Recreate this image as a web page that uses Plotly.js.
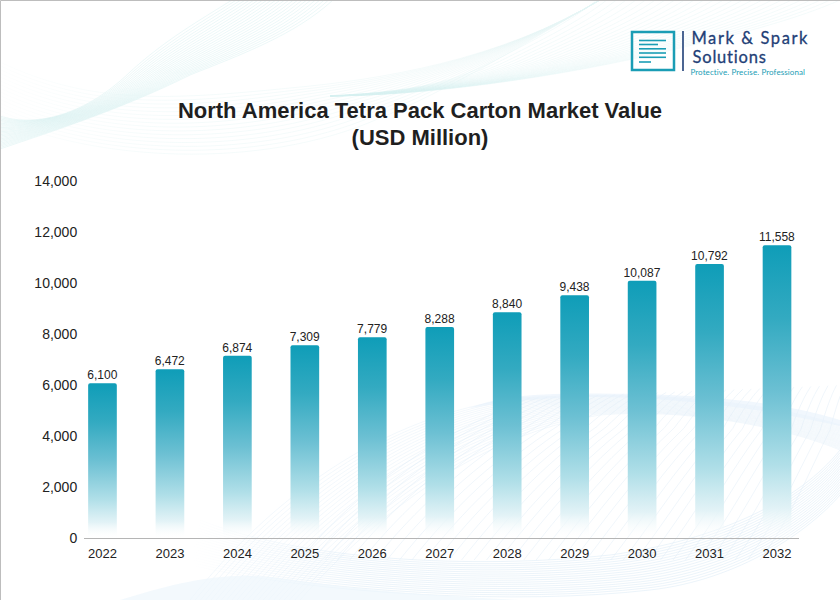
<!DOCTYPE html>
<html>
<head>
<meta charset="utf-8">
<script src="https://cdn.plot.ly/plotly-3.0.1.min.js"></script>
<style>html,body{margin:0;padding:0;background:#fff}#chart{width:840px;height:600px}</style>
</head>
<body>
<div id="chart"></div>
<script>
// Data
const years = ['2022','2023','2024','2025','2026','2027','2028','2029','2030','2031','2032'];
// Bar heights as drawn in the reference (they differ slightly from the printed labels there)
const barHeights = [6067,6616,7149,7557,7871,8275,8851,9518,10090,10745,11478];
// Printed value labels
const valueLabels = ['6,100','6,472','6,874','7,309','7,779','8,288','8,840','9,438','10,087','10,792','11,558'];
const yTicks = [0,2000,4000,6000,8000,10000,12000,14000];
const yTickText = ['0','2,000','4,000','6,000','8,000','10,000','12,000','14,000'];
const titleLines = ['North America Tetra Pack Carton Market Value','(USD Million)'];
const logoLines = ['Mark &amp; Spark','Solutions','Protective. Precise. Professional'];

// Decorative wave backdrop: a family of strands between two edge curves
function strands(a, b, n, color, width, opacity) {
  let out = '';
  for (let i = 0; i < n; i++) {
    const t = n === 1 ? 0 : i / (n - 1);
    const p = a.map((v, k) => (v + (b[k] - v) * t).toFixed(1));
    out += `<path d="M${p[0]},${p[1]} C${p.slice(2, 8).join(' ')} C${p.slice(8, 14).join(' ')}" fill="none" stroke="${color}" stroke-width="${width}" opacity="${opacity}"/>`;
  }
  return out;
}
function backdrop() {
  let s = '<svg xmlns="http://www.w3.org/2000/svg" width="840" height="600" viewBox="0 0 840 600">';
  s += '<defs><linearGradient id="fadeL" gradientUnits="userSpaceOnUse" x1="190" y1="0" x2="360" y2="0"><stop offset="0" stop-color="#dcebf6" stop-opacity="0"/><stop offset="1" stop-color="#dcebf6"/></linearGradient>';
  s += '<linearGradient id="fadeA" gradientUnits="userSpaceOnUse" x1="0" y1="0" x2="180" y2="0"><stop offset="0" stop-color="#e6f5f5" stop-opacity="0.2"/><stop offset="1" stop-color="#e6f5f5"/></linearGradient></defs>';
  // top-left teal ribbon
  s += strands([0,116, 30,126, 80,120, 130,72, 165,40, 200,20, 232,0],
               [0,149, 50,132, 120,110, 190,75, 240,55, 295,35, 333,0], 24, '#c9ecec', 0.6, 0.6);
  // sweeping arcs: left edge, dip, up into the top-right ribbon
  s += strands([0,62, 90,105, 170,100, 290,88, 380,80, 500,60, 600,0],
               [0,118, 90,160, 260,172, 380,118, 450,90, 530,40, 600,0], 16, 'url(#fadeA)', 0.6, 0.7);
  s += strands([330,96, 400,92, 450,85, 492,62, 530,42, 570,22, 597,0],
               [330,96, 420,96, 560,78, 680,48, 740,34, 800,18, 840,0], 26, '#d6efef', 0.6, 0.45);
  // bottom dome
  s += strands([190,600, 270,500, 380,415, 520,398, 640,390, 760,400, 840,425],
               [300,600, 380,510, 480,435, 600,415, 680,408, 780,425, 840,450], 22, '#dcebf6', 0.6, 0.6);
  // bottom smile arcs
  s += strands([200,520, 300,560, 470,570, 610,555, 720,540, 800,500, 840,450],
               [190,565, 320,595, 520,605, 650,590, 740,580, 810,530, 840,495], 18, 'url(#fadeL)', 0.7, 0.8);
  // fan of diagonal strands under the dome
  s += strands([300,560, 340,510, 400,460, 470,425, 490,415, 510,405, 530,398],
               [760,560, 790,520, 810,470, 830,430, 835,410, 840,395, 845,385], 38, '#e0edf7', 0.7, 0.7);
  // soft blue ribbons
  s += '<path d="M120,600 C170,585 220,570 280,578 C360,590 420,595 520,600 Z" fill="#eef6fc" opacity="0.7"/>';
  s += '<path d="M470,408 C510,392 560,393 640,394 C720,396 790,404 840,420 L840,426 C760,408 680,398 600,397 C550,397 510,401 470,408 Z" fill="#e8f2fb" opacity="0.6"/>';
  // picture frame (top and left edges)
  s += '<path d="M0.5,600 L0.5,0.5 L840,0.5" fill="none" stroke="#bdbdbd" stroke-width="1"/>';
  s += '</svg>';
  return 'data:image/svg+xml;base64,' + btoa(s);
}

const teal = '#1a9db5', navy = '#1f3f77';
// logo geometry uses page pixels, converted to paper fractions of the plot area
const L = 84, R = 41, T = 181, B = 62, W = 840, H = 600;
const px = x => (x - L) / (W - L - R), py = y => 1 - (y - T) / (H - T - B);
const seg = (x0, y0, x1, y1, color, width) => ({type:'line', xref:'paper', yref:'paper', x0:px(x0), x1:px(x1), y0:py(y0), y1:py(y1), line:{color, width}});
const logoShapes = [
  {type:'rect', xref:'paper', yref:'paper', x0:px(632), x1:px(674), y0:py(32), y1:py(70), line:{color:teal, width:2.5}},
  seg(639,40.5,666,40.5,teal,1.6), seg(639,44.5,658,44.5,teal,1.6), seg(639,48.8,666,48.8,teal,1.6),
  seg(639,53,666,53,teal,1.6), seg(639,57.3,666,57.3,teal,1.6), seg(639,62,651,62,teal,1.6),
  seg(683,31,683,71,navy,1.6)
];
const note = (text, x, y, size, color) => ({text, xref:'paper', yref:'paper', x:px(x), y:py(y), xanchor:'left', yanchor:'middle',
  showarrow:false, borderpad:0, font:{family:'Lato, "Open Sans", sans-serif', size, color}});

const trace = {
  type:'bar', x:years, y:barHeights, width:0.425,
  text:valueLabels, textposition:'outside', cliponaxis:false, constraintext:'none',
  textfont:{family:'"Liberation Sans", Arial, sans-serif', size:12, color:'#222'},
  marker:{color:'#0f9db8', line:{width:0}}, hoverinfo:'skip'
};
const layout = {
  width:W, height:H, margin:{l:L, r:R, t:T, b:B, pad:0},
  paper_bgcolor:'rgba(0,0,0,0)', plot_bgcolor:'rgba(0,0,0,0)', showlegend:false, barcornerradius:2,
  title:{text:titleLines.join('<br>'), x:0.5, xref:'container', xanchor:'center', y:1-118/600, yref:'container', yanchor:'top',
    font:{family:'"Liberation Sans", Arial, sans-serif', size:22, color:'#1f1f1f', weight:700}},
  xaxis:{type:'category', range:[-0.274,10.326], showline:true, linecolor:'#b5b5b5', linewidth:1, showgrid:false, zeroline:false,
    ticks:'outside', ticklen:3, tickcolor:'rgba(0,0,0,0)', tickfont:{family:'"Liberation Sans", Arial, sans-serif', size:13, color:'#222'}},
  yaxis:{range:[0,14000], tickmode:'array', tickvals:yTicks, ticktext:yTickText, showline:false, showgrid:false, zeroline:false,
    ticks:'outside', ticklen:3, tickcolor:'rgba(0,0,0,0)', tickfont:{family:'"Liberation Sans", Arial, sans-serif', size:14, color:'#222'}},
  shapes:logoShapes,
  annotations:[
    note(logoLines[0], 700, 37.5, 16.5, navy),
    note(logoLines[1], 694.6, 57.5, 16.5, navy),
    note(logoLines[2], 691, 72.5, 8, teal)
  ],
  images:[{source:backdrop(), xref:'paper', yref:'paper', x:px(0), y:py(0), sizex:W/(W-L-R), sizey:H/(H-T-B), sizing:'stretch', xanchor:'left', yanchor:'top', layer:'below'}]
};

// Vertical fade on every bar, added to the SVG Plotly produced
function applyFinish(gd) {
  const svg = gd.querySelector('svg.main-svg');
  if (!svg) return;
  if (!svg.querySelector('#barFade')) {
    const ns = 'http://www.w3.org/2000/svg';
    const g = document.createElementNS(ns, 'linearGradient');
    g.setAttribute('id', 'barFade');
    g.setAttribute('x1', '0'); g.setAttribute('y1', '0'); g.setAttribute('x2', '0'); g.setAttribute('y2', '1');
    [[0,'#0f9db8',1],[0.25,'#33aac1',1],[0.5,'#6cc0d3',1],[0.75,'#b0dfe8',1],[0.9,'#e1f2f6',0.95],[0.995,'#ffffff',0.2]].forEach(st => {
      const s = document.createElementNS(ns, 'stop');
      s.setAttribute('offset', st[0]); s.setAttribute('stop-color', st[1]); s.setAttribute('stop-opacity', st[2]);
      g.appendChild(s);
    });
    svg.querySelector('defs').appendChild(g);
  }
  gd.querySelectorAll('.bars .point path').forEach(p => { p.style.fill = 'url(#barFade)'; });
  // value labels sit a little closer to the bars in the reference
  gd.querySelectorAll('.bars .point text').forEach(t => t.setAttribute('dy', '2'));
  // tighter title leading, as in the reference
  const titleLine = gd.querySelector('.gtitle .line:nth-child(2)') || gd.querySelectorAll('.g-gtitle tspan.line')[1];
  if (titleLine) titleLine.setAttribute('y', parseFloat(titleLine.getAttribute('y')) - 1.5);
  // logo lettering: wider tracking and a slightly heavier stroke, as in the reference
  const texts = gd.querySelectorAll('.annotation-text');
  if (texts[0]) texts[0].style.letterSpacing = '1.6px';
  if (texts[1]) texts[1].style.letterSpacing = '0.8px';
  if (texts[2]) texts[2].style.letterSpacing = '0.1px';
  [texts[0], texts[1]].forEach(t => { if (t) { t.style.stroke = navy; t.style.strokeWidth = '0.3px'; } });
}
Plotly.newPlot('chart', [trace], layout, {displayModeBar:false, responsive:false}).then(gd => {
  applyFinish(gd);
});
</script>
</body>
</html>
